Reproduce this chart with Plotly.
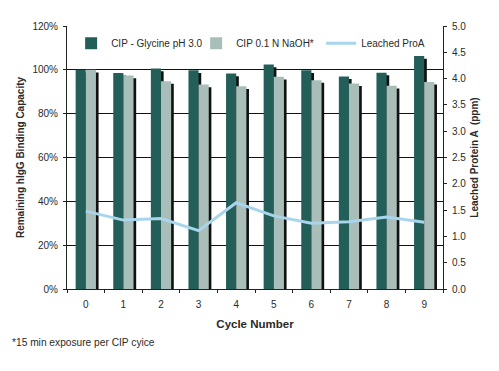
import plotly.graph_objects as go

cycles = ["0", "1", "2", "3", "4", "5", "6", "7", "8", "9"]
glycine = [100.0, 98.6, 100.6, 99.8, 98.3, 102.4, 99.8, 97.0, 98.7, 106.3]
naoh = [100.0, 97.4, 94.8, 93.3, 92.5, 96.8, 95.3, 93.8, 92.7, 94.5]
leached = [1.48, 1.31, 1.34, 1.11, 1.64, 1.39, 1.25, 1.28, 1.37, 1.27]

left_ticks = [0, 20, 40, 60, 80, 100, 120]
left_labels = ["0%", "20%", "40%", "60%", "80%", "100%", "120%"]
right_ticks = [0.0, 0.5, 1.0, 1.5, 2.0, 2.5, 3.0, 3.5, 4.0, 4.5, 5.0]
right_labels = ["0.0", "0.5", "1.0", "1.5", "2.0", "2.5", "3.0", "3.5", "4.0", "4.5", "5.0"]

TEAL = "#235F58"
GREY = "#A9BEB9"
BLUE = "#A9D5EC"
FONT = "Liberation Sans, Arial, sans-serif"
TXT = "#2a2a2a"

BW = 0.27
SH = 0.07

fig = go.Figure()
fig.add_trace(go.Bar(x=cycles, y=[v - 1.2 for v in glycine], width=BW, offset=-BW + SH,
                     marker=dict(color="#111111", line=dict(width=0)), showlegend=False,
                     hoverinfo="skip"))
fig.add_trace(go.Bar(x=cycles, y=glycine, width=BW, offset=-BW, name="CIP - Glycine pH 3.0",
                     marker=dict(color=TEAL, line=dict(width=0))))
fig.add_trace(go.Bar(x=cycles, y=[v - 1.2 for v in naoh], width=BW, offset=SH,
                     marker=dict(color="#111111", line=dict(width=0)), showlegend=False,
                     hoverinfo="skip"))
fig.add_trace(go.Bar(x=cycles, y=naoh, width=BW, offset=0, name="CIP 0.1 N NaOH*",
                     marker=dict(color=GREY, line=dict(width=0))))
fig.add_trace(go.Scatter(x=cycles, y=leached, yaxis="y2", mode="lines", name="Leached ProA",
                         line=dict(color=BLUE, width=3)))

fig.update_layout(
    width=491, height=363,
    margin=dict(l=59, r=56, t=18, b=82, autoexpand=False),
    paper_bgcolor="white", plot_bgcolor="white",
    barmode="overlay",
    font=dict(family=FONT, size=10, color=TXT),
    showlegend=True,
    legend=dict(orientation="h", x=0.011, y=0.99, xanchor="left", yanchor="top",
                bgcolor="rgba(255,255,255,0)", font=dict(size=10, color=TXT),
                itemwidth=30, entrywidth=80, tracegroupgap=0, traceorder="normal"),
    xaxis=dict(
        type="category", showline=True, linecolor="#222", linewidth=1,
        ticks="outside", tickson="boundaries", ticklen=3, tickcolor="#222",
        showgrid=False, automargin=False, ticklabelstandoff=6,
        title=dict(text="<b>Cycle Number</b>", font=dict(size=11.5, color=TXT), standoff=10),
        tickfont=dict(size=10, color=TXT),
    ),
    yaxis=dict(
        range=[0, 120], tickvals=left_ticks, ticktext=left_labels,
        showline=True, linecolor="#222", linewidth=1,
        ticks="outside", ticklen=3, tickcolor="#222",
        showgrid=True, gridcolor="#111", gridwidth=1,
        zeroline=False, automargin=False, ticklabelstandoff=3,
        title=dict(text="<b>Remaining hIgG Binding Capacity</b>", font=dict(size=10, color=TXT), standoff=5),
        tickfont=dict(size=10, color=TXT),
    ),
    yaxis2=dict(
        range=[0, 5], tickvals=right_ticks, ticktext=right_labels,
        overlaying="y", side="right",
        showline=True, linecolor="#222", linewidth=1,
        ticks="outside", ticklen=3, tickcolor="#222",
        showgrid=False, zeroline=False, automargin=False, ticklabelstandoff=3,
        title=dict(text="<b>Leached Protein A  (ppm)</b>", font=dict(size=10, color=TXT), standoff=5),
        tickfont=dict(size=10, color=TXT),
    ),
    annotations=[dict(text="*15 min exposure per CIP cyice", xref="paper", yref="paper",
                      x=-0.152, y=-0.205, xanchor="left", yanchor="middle", showarrow=False,
                      font=dict(size=10.2, color=TXT))],
)

fig.write_html("out.html")
